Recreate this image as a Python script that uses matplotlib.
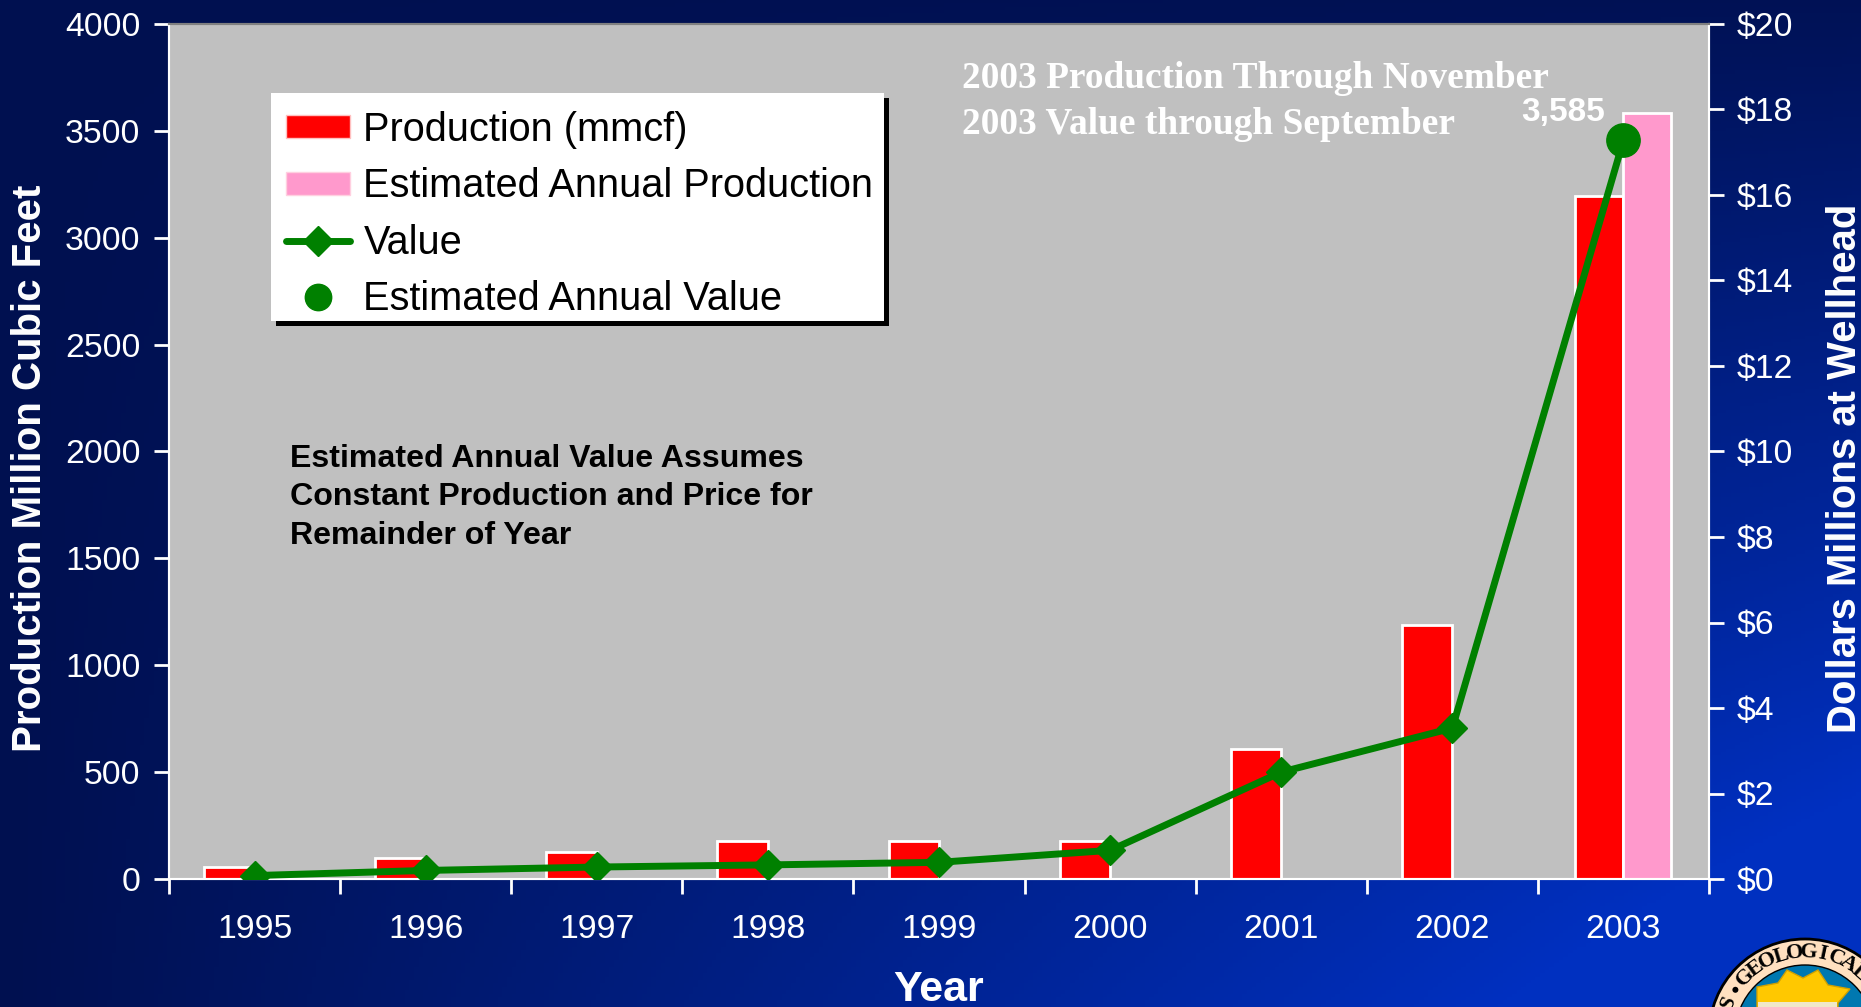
import numpy as np
import matplotlib
matplotlib.use("Agg")
import matplotlib.pyplot as plt
from matplotlib.colors import LinearSegmentedColormap
from matplotlib.lines import Line2D
from matplotlib.patches import Patch, Circle, Polygon, Rectangle

years = ["1995", "1996", "1997", "1998", "1999", "2000", "2001", "2002", "2003"]
production = [55, 100, 128, 178, 178, 178, 610, 1190, 3195]
est_production = [3585]
value = [0.08, 0.2, 0.28, 0.33, 0.39, 0.67, 2.5, 3.53]
est_value = [17.28]
left_ticks = [0, 500, 1000, 1500, 2000, 2500, 3000, 3500, 4000]
right_ticks = [0, 2, 4, 6, 8, 10, 12, 14, 16, 18, 20]

W, H = 1861, 1007
plt.rcParams["font.family"] = ["Liberation Sans", "DejaVu Sans"]
fig = plt.figure(figsize=(W / 100, H / 100), dpi=100)

def fx(p): return p / W
def fy(p): return 1 - p / H

# background gradient: brightest towards the bottom right corner
bg = fig.add_axes([0, 0, 1, 1], zorder=0)
bg.set_axis_off()
xx, yy = np.meshgrid(np.linspace(0, 1, 400), np.linspace(0, 1, 300))
cmap = LinearSegmentedColormap.from_list("b", ["#001050", "#0030C0"])
bg.imshow(np.clip(0.05 * xx + 1.2 * xx ** 1.05 * yy, 0, 1), cmap=cmap, aspect="auto",
          extent=(0, W, H, 0), vmin=0, vmax=1)

L, R, T, B = 169, 1709, 24, 879
ax = fig.add_axes([fx(L), fy(B), (R - L) / W, (B - T) / H], zorder=2)
ax.set_facecolor("#C0C0C0")
x = np.arange(len(years))
bw = 0.295
bw_last = 0.285
ax.bar(x[:8] - bw, production[:8], width=bw, align="edge", color="#FF0000", edgecolor="white", linewidth=2)
ax.bar([x[8] - bw_last], production[8:], width=bw_last, align="edge", color="#FF0000", edgecolor="white", linewidth=2)
ax.bar([x[8]], est_production, width=0.28, align="edge", color="#FF99CC", edgecolor="white", linewidth=2)
ax.set_xlim(-0.5, 8.5)
ax.set_ylim(0, 4000)
ax.set_xticks(np.arange(-0.5, 9, 1))
ax.set_xticklabels([])
ax.set_xticks(x, years, minor=True)
ax.tick_params(axis="x", which="minor", length=0, labelsize=24.3, labelcolor="white", pad=25)
ax.tick_params(axis="x", which="major", length=11, width=2, color="white")
ax.set_yticks(left_ticks)
ax.tick_params(axis="y", length=11, width=2, color="white", labelsize=24.3, labelcolor="white", pad=9.5)
for s in ax.spines.values():
    s.set_color("white")
    s.set_linewidth(1.5)

ax2 = ax.twinx()
ax2.set_zorder(3)
ax2.set_ylim(0, 20)
ax2.set_yticks(right_ticks)
ax2.set_yticklabels([f"${v}" for v in right_ticks])
ax2.tick_params(axis="y", length=11, width=2, color="white", labelsize=24.3, labelcolor="white", pad=9)
for s in ax2.spines.values():
    s.set_color("white")
    s.set_linewidth(1.5)
ax2.spines["top"].set_color("#808080")
ax.spines["top"].set_color("#808080")
green = "#008000"
ax2.plot(x, value + est_value, color=green, lw=5, zorder=3, solid_capstyle="round")
ax2.plot(x[:8], value, ls="none", marker="D", ms=15.5, color=green, zorder=4)
ax2.plot([x[8]], est_value, ls="none", marker="o", ms=24, color=green, zorder=4)

# legend frame with a hard black shadow
for dx, col in [(5, "black"), (0, "white")]:
    ax2.add_patch(Rectangle((fx(271 + dx), fy(321 + dx)), (884 - 271) / W, (321 - 93) / H, transform=fig.transFigure,
                            fc=col, ec="none", zorder=5, clip_on=False))
handles = [Patch(facecolor="#FF0000", edgecolor="#FFC0C0"),
           Patch(facecolor="#FF99CC", edgecolor="#FFD0E0"),
           Line2D([], [], color=green, lw=5, marker="D", ms=15, solid_capstyle="round"),
           Line2D([], [], color=green, ls="none", marker="o", ms=19)]
labels = ["Production (mmcf)", "Estimated Annual Production", "Value", "Estimated Annual Value"]
leg = ax2.legend(handles, labels, loc="upper left", bbox_to_anchor=(fx(286), fy(111)),
                 bbox_transform=fig.transFigure, borderaxespad=0, frameon=False,
                 fontsize=28.6, labelcolor="black", handlelength=1.6, handleheight=0.52,
                 handletextpad=0.35, labelspacing=0.46, borderpad=0)
leg.set_zorder(6)

fig.text(fx(30), fy(468), "Production Million Cubic Feet", rotation=90, color="white", fontsize=29,
         fontweight="bold", ha="center", va="center", zorder=5)
fig.text(fx(1845), fy(468), "Dollars Millions at Wellhead", rotation=90, color="white", fontsize=28.9,
         fontweight="bold", ha="center", va="center", zorder=5)
fig.text(fx(939), fy(990), "Year", color="white", fontsize=31, fontweight="bold", ha="center", va="center", zorder=5)

for yp, s in [(79, "2003 Production Through November"), (124, "2003 Value through September")]:
    fig.text(fx(962), fy(yp), s, color="white", fontsize=26.9, fontweight="bold",
             family=["Liberation Serif", "DejaVu Serif"], ha="left", va="center", zorder=5)
for yp, s in [(459, "Estimated Annual Value Assumes"), (497, "Constant Production and Price for"), (536, "Remainder of Year")]:
    fig.text(fx(290), fy(yp), s, color="black", fontsize=23.1, fontweight="bold", ha="left", va="center", zorder=5)
fig.text(fx(1605), fy(112), f"{est_production[0]:,}", color="white", fontsize=24, fontweight="bold",
         ha="right", va="center", zorder=5)

# seal, cropped by the figure edge
seal = fig.add_axes([0, 0, 1, 1], zorder=1)
seal.set_xlim(0, W); seal.set_ylim(H, 0); seal.set_axis_off(); seal.patch.set_alpha(0)
cx, cy, r, ri = 1805, 1035, 96, 70
seal.add_patch(Circle((cx, cy), r, fc="#FFE0C0", ec="black", lw=2))
seal.add_patch(Circle((cx, cy), ri, fc="#0078B0", ec="black", lw=1))
sun = [(1757, 987), (1778, 983), (1787, 970), (1803, 978), (1818, 970), (1828, 985), (1850, 989),
       (1838, 1003), (1838, 1010), (1757, 1010)]
seal.add_patch(Polygon(sun, fc="#FFC800", ec="#D0A000"))
seal.add_patch(Polygon([(1758, 1002), (1837, 1002), (1837, 1010), (1758, 1010)], fc="#F0E8C8", ec="none"))
for i, c in enumerate("GEOLOGICAL"):
    a = np.radians(-136 + i * 9.7)
    seal.text(cx + 83 * np.cos(a), cy + 83 * np.sin(a), c, rotation=-np.degrees(a) - 90,
              fontsize=16, fontweight="bold", family="Liberation Serif", ha="center", va="center",
              rotation_mode="anchor", color="black")
a = np.radians(-147)
seal.add_patch(Circle((cx + 83 * np.cos(a), cy + 83 * np.sin(a)), 3, fc="black", ec="none"))
a = np.radians(-157)
seal.text(cx + 83 * np.cos(a), cy + 83 * np.sin(a), "S", rotation=-np.degrees(a) - 90,
          fontsize=16, fontweight="bold", family="Liberation Serif", ha="center", va="center",
          rotation_mode="anchor", color="black")

fig.savefig("out.png", dpi=100)
